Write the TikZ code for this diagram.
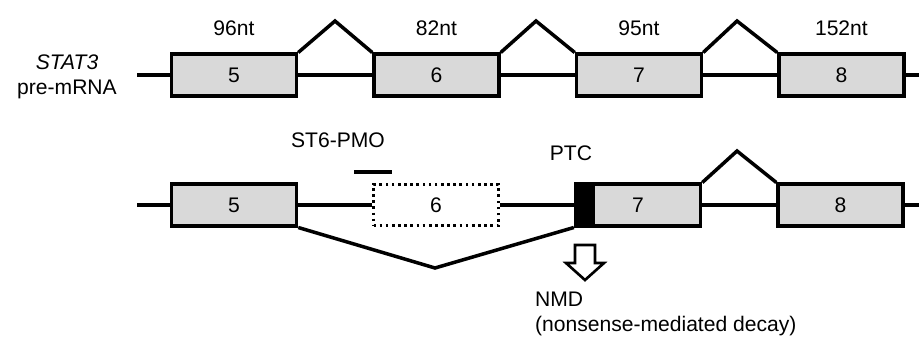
\documentclass[tikz,border=0pt]{standalone}
\usepackage{fontspec}
\setmainfont{Liberation Sans}
\usepackage{tikz}
\usetikzlibrary{positioning}

\begin{document}
\begin{tikzpicture}[
    x=0.02cm, y=-0.02cm,
    node distance=1.48cm,
    font=\fontsize{12}{14}\selectfont,
    exon/.style={draw, line width=2pt, fill=black!15, minimum width=2.5cm, minimum height=0.83cm, inner sep=0pt},
    skipped/.style={draw, dotted, line width=1.5pt, fill=white, minimum width=2.5cm, minimum height=0.83cm, inner sep=0pt},
    stopbox/.style={draw, line width=2pt, fill=black, minimum width=0.35cm, minimum height=0.83cm, inner sep=0pt},
    lbl/.style={inner sep=1pt},
    rna/.style={line width=2pt},
    splice/.style={line width=2pt, line join=miter}
]
\useasboundingbox (0,0) rectangle (919,338);
% pre-mRNA
\node[lbl, align=center] (name) at (67,77) {\textit{STAT3}\\pre-mRNA};
\coordinate (s1) at (137,75);
\coordinate (t1) at (919,75);
\node[exon] (e5) at (234,75) {5};
\node[exon, right=of e5] (e6) {6};
\node[exon, right=of e6] (e7) {7};
\node[exon, right=of e7] (e8) {8};
\draw[rna] (s1) -- (e5.west);
\draw[rna] (e5.east) -- (e6.west);
\draw[rna] (e6.east) -- (e7.west);
\draw[rna] (e7.east) -- (e8.west);
\draw[rna] (e8.east) -- (t1);
\node[lbl, above=0.3cm of e5] (n5) {96nt};
\node[lbl, above=0.3cm of e6] (n6) {82nt};
\node[lbl, above=0.3cm of e7] (n7) {95nt};
\node[lbl, above=0.3cm of e8] (n8) {152nt};
\coordinate (p56) at (335,21);
\coordinate (p67) at (536,21);
\coordinate (p78) at (737,21);
\draw[splice] (e5.north east) -- (p56) -- (e6.north west);
\draw[splice] (e6.north east) -- (p67) -- (e7.north west);
\draw[splice] (e7.north east) -- (p78) -- (e8.north west);

% exon 6 skipping
\coordinate (s2) at (137,205);
\coordinate (t2) at (919,205);
\node[exon] (f5) at (234,205) {5};
\node[skipped, right=of f5] (f6) {6};
\node[exon, right=of f6] (f7) {7};
\node[exon, right=of f7] (f8) {8};
\node[stopbox, anchor=west] (ptc) at (f7.west) {};
\draw[rna] (s2) -- (f5.west);
\draw[rna] (f5.east) -- (f6.west);
\draw[rna] (f6.east) -- (ptc.west);
\draw[rna] (f7.east) -- (f8.west);
\draw[rna] (f8.east) -- (t2);
\coordinate (q78) at (737,151);
\coordinate (v57) at (435,268);
\draw[splice] (f7.north east) -- (q78) -- (f8.north west);
\draw[splice] (f5.south east) -- (v57) -- (ptc.south west);
\node[fill=black, minimum width=0.76cm, minimum height=0.09cm, inner sep=0pt] (pmo) at (373,172) {};
\node[lbl] (pmolbl) at (338,140) {ST6-PMO};
\node[lbl] (ptclbl) at (571,153) {PTC};

% NMD
\coordinate (nmd) at (585,245);
\draw[line width=1.5pt, line join=miter] (nmd) ++(-10,0) -- ++(20,0) -- ++(0,18) -- ++(9,0)
    -- ++(-19,17) -- ++(-19,-17) -- ++(9,0) -- cycle;
\node[lbl, align=left, anchor=north west] (nmdlbl) at (533,290) {NMD\\(nonsense-mediated decay)};
\end{tikzpicture}
\end{document}
